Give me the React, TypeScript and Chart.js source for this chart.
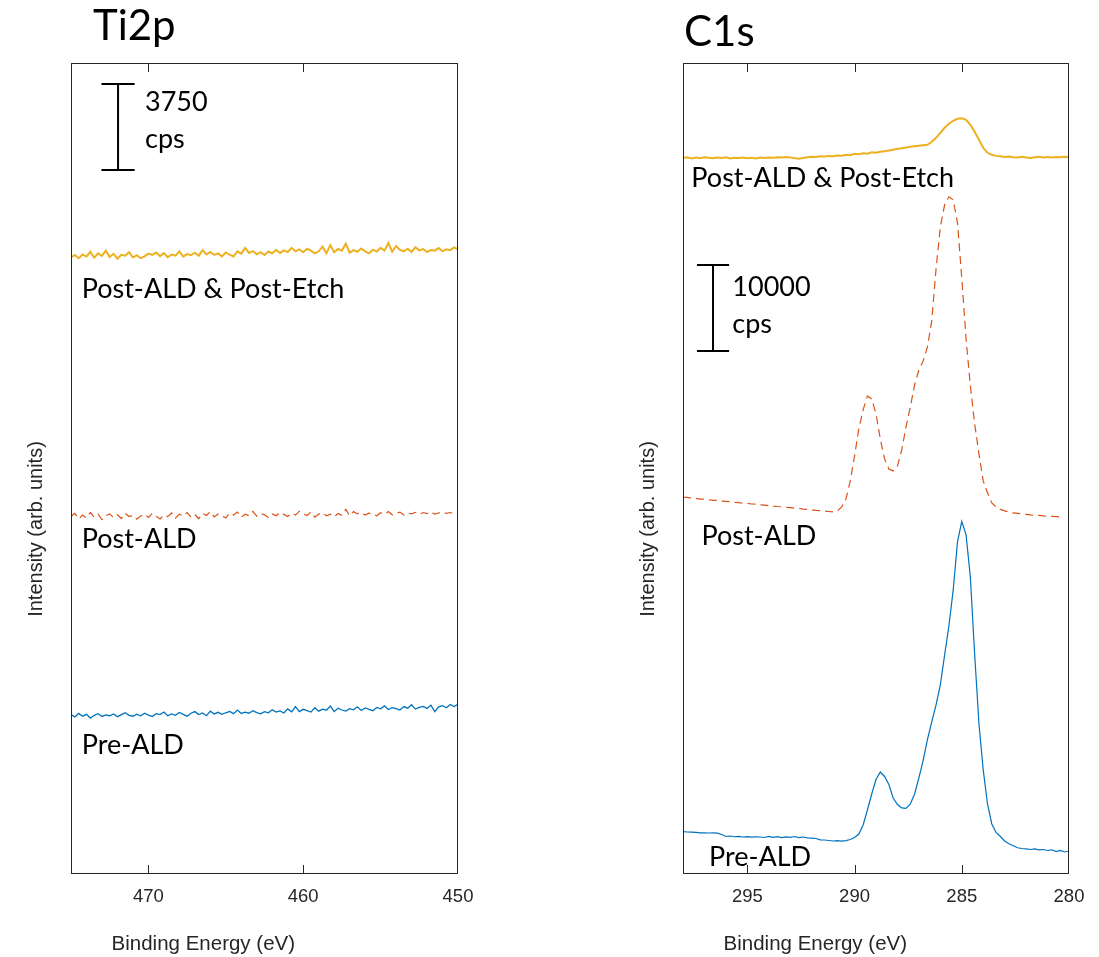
import React, { useEffect, useRef } from "react";
import { Chart, registerables } from "chart.js";

Chart.register(...registerables);

// ---------- Ti2p panel data (binding energy in eV, intensity in cps incl. stacking offset) ----------
const tiEnergy = [
  475, 474.75, 474.5, 474.25, 474, 473.75, 473.5, 473.25, 473, 472.75,
  472.5, 472.25, 472, 471.75, 471.5, 471.25, 471, 470.75, 470.5, 470.25,
  470, 469.75, 469.5, 469.25, 469, 468.75, 468.5, 468.25, 468, 467.75,
  467.5, 467.25, 467, 466.75, 466.5, 466.25, 466, 465.75, 465.5, 465.25,
  465, 464.75, 464.5, 464.25, 464, 463.75, 463.5, 463.25, 463, 462.75,
  462.5, 462.25, 462, 461.75, 461.5, 461.25, 461, 460.75, 460.5, 460.25,
  460, 459.75, 459.5, 459.25, 459, 458.75, 458.5, 458.25, 458, 457.75,
  457.5, 457.25, 457, 456.75, 456.5, 456.25, 456, 455.75, 455.5, 455.25,
  455, 454.75, 454.5, 454.25, 454, 453.75, 453.5, 453.25, 453, 452.75,
  452.5, 452.25, 452, 451.75, 451.5, 451.25, 451, 450.75, 450.5, 450.25,
  450,
];
const tiPostEtch = [
  26880, 26990, 26850, 27010, 26920, 27130, 26870, 27060, 26950, 27180,
  26900, 27040, 26830, 27000, 26960, 27110, 26880, 26980, 26850, 26930,
  27050, 26990, 27100, 26940, 27070, 26890, 27010, 26960, 27150, 26920,
  27030, 26980, 27090, 26950, 27200, 27010, 27120, 26990, 27060, 26930,
  27100, 27000, 26920, 27150, 27050, 27300, 27080, 27160, 27020, 27110,
  26990, 27140, 27060, 27210, 27080, 27190, 27120, 27300, 27150, 27230,
  27110, 27260, 27180, 27060, 27150, 27350, 27070, 27420, 27110, 27250,
  27180, 27480, 27090, 27200, 27130, 27270, 27150, 27060, 27220, 27140,
  27300, 27180, 27510, 27130, 27380, 27210, 27150, 27260, 27120, 27330,
  27190, 27250, 27120, 27210, 27180, 27290, 27150, 27240, 27200, 27320,
  27230,
];
const tiPostAld = [
  15600, 15720, 15480, 15650, 15530, 15760, 15560, 15690, 15450, 15620,
  15700, 15540, 15660, 15500, 15730, 15580, 15640, 15470, 15610, 15690,
  15550, 15720, 15600, 15480, 15650, 15580, 15740, 15520, 15690, 15610,
  15760, 15560, 15680, 15490, 15720, 15630, 15800, 15570, 15700, 15610,
  15520, 15740, 15650, 15780, 15560, 15690, 15620, 15810, 15600, 15720,
  15660, 15540, 15700, 15620, 15770, 15680, 15590, 15730, 15650, 15820,
  15700, 15630, 15780, 15560, 15690, 15750, 15620, 15690, 15580, 15720,
  15640, 15900, 15620, 15800, 15700, 15760, 15650, 15730, 15680, 15620,
  15750, 15690, 15800, 15660, 15720, 15780, 15650, 15740, 15700, 15770,
  15680, 15760, 15710, 15800, 15690, 15740, 15780, 15720, 15760, 15700,
  15750,
];
const tiPreAld = [
  6950, 6850, 7000, 6880, 6960, 6800, 6920, 6990, 6870, 6940,
  6900, 6980, 6860, 6950, 7030, 6920, 6880, 6970, 6900, 7010,
  6930, 6870, 6990, 6950, 7060, 6900, 6980, 6920, 7040, 6960,
  6880, 7010, 7080, 6950, 7020, 6900, 7100, 6980, 7050, 6960,
  7030, 7090, 6990, 7150, 7000, 7060, 7010, 7120, 7040, 6980,
  7080, 7030, 7160, 7060, 7110, 7020, 7200, 7070, 7300, 7080,
  7180, 7120, 7060, 7250, 7100, 7190, 7140, 7320, 7080, 7230,
  7150, 7100, 7210, 7160, 7290, 7130, 7240, 7180, 7120, 7260,
  7200, 7330, 7170, 7250, 7210, 7150, 7300, 7230, 7380, 7190,
  7260, 7310, 7220, 7360, 7080, 7290, 7340, 7250, 7390, 7300,
  7400,
];
const tiTicks = [470, 460, 450];

// ---------- C1s panel data ----------
const c1sEnergy = [
  298, 297.8, 297.6, 297.4, 297.2, 297, 296.8, 296.6, 296.4, 296.2,
  296, 295.8, 295.6, 295.4, 295.2, 295, 294.8, 294.6, 294.4, 294.2,
  294, 293.8, 293.6, 293.4, 293.2, 293, 292.8, 292.6, 292.4, 292.2,
  292, 291.8, 291.6, 291.4, 291.2, 291, 290.8, 290.6, 290.4, 290.2,
  290, 289.8, 289.6, 289.4, 289.2, 289, 288.8, 288.6, 288.4, 288.2,
  288, 287.8, 287.6, 287.4, 287.2, 287, 286.8, 286.6, 286.4, 286.2,
  286, 285.8, 285.6, 285.4, 285.2, 285, 284.8, 284.6, 284.4, 284.2,
  284, 283.8, 283.6, 283.4, 283.2, 283, 282.8, 282.6, 282.4, 282.2,
  282, 281.8, 281.6, 281.4, 281.2, 281, 280.8, 280.6, 280.4, 280.2,
  280,
];
const c1sPostEtch = [
  83250, 83330, 83210, 83300, 83240, 83350, 83270, 83220, 83310, 83260,
  83330, 83200, 83290, 83250, 83320, 83230, 83290, 83210, 83300, 83260,
  83320, 83280, 83350, 83300, 83360, 83310, 83240, 83170, 83260, 83350,
  83410, 83380, 83460, 83420, 83500, 83470, 83540, 83510, 83620, 83580,
  83740, 83690, 83800, 83760, 83910, 83870, 83980, 84050, 84120, 84220,
  84330, 84380, 84480, 84560, 84620, 84680, 84740, 84800, 85140, 85600,
  86180, 86770, 87230, 87580, 87820, 87870, 87700, 87120, 86300, 85370,
  84440, 83860, 83630, 83500, 83450, 83380, 83430, 83340, 83300, 83390,
  83320, 83260, 83350, 83410, 83320, 83370, 83300, 83380, 83340, 83400,
  83360,
];
const c1sPostAld = [
  43810, 43790, 43700, 43680, 43590, 43600, 43520, 43450, 43440, 43350,
  43330, 43290, 43200, 43190, 43100, 43090, 43020, 43010, 42920, 42900,
  42820, 42790, 42730, 42700, 42620, 42600, 42530, 42510, 42420, 42400,
  42350, 42290, 42260, 42190, 42150, 42100, 42220, 42680, 43610, 45710,
  48610, 51750, 53960, 55590, 55240, 53500, 50590, 48270, 47100, 46870,
  47450, 49310, 51990, 54310, 56870, 58620, 59660, 61290, 64310, 70360,
  75250, 77810, 78740, 78390, 75710, 69320, 62220, 56750, 52340, 48850,
  45710, 44310, 43150, 42680, 42390, 42220, 42100, 41980, 41930, 41870,
  41810, 41750, 41730, 41690, 41640, 41610, 41580, 41550, 41520, null,
  null,
];
const c1sPreAld = [
  4920, 4885, 4860, 4830, 4790, 4790, 4770, 4790, 4745, 4595,
  4360, 4420, 4330, 4385, 4300, 4350, 4280, 4330, 4300, 4245,
  4375, 4270, 4350, 4235, 4315, 4255, 4360, 4235, 4300, 4210,
  4165, 4130, 3975, 3955, 3895, 3840, 3875, 3815, 3875, 4010,
  4245, 4650, 5700, 7440, 9300, 10990, 11860, 11340, 10410, 8840,
  8080, 7680, 7620, 8140, 9300, 11170, 13200, 15640, 17680, 19660,
  21980, 25470, 28840, 33030, 38610, 41000, 39430, 34540, 25590, 17500,
  12100, 8140, 5815, 4825, 4360, 3840, 3510, 3280, 3050, 2965,
  2930, 2850, 2930, 2815, 2850, 2735, 2815, 2615, 2735, 2560,
  2675,
];
const c1sTicks = [295, 290, 285, 280];

const seriesNames = ["Post-ALD & Post-Etch", "Post-ALD", "Pre-ALD"];
const panelTitles = ["Ti2p", "C1s"];
const scaleBarCps = [3750, 10000];

// ---------- styles ----------
const COLORS = ["#EDB120", "#D95319", "#0072BD"];
const AXIS_COLOR = "#262626";
const AXIS_FONT = "'Liberation Sans', Arial, sans-serif";
const TEXT_FONT = "Lato, 'Open Sans', sans-serif";

type Label = { text: string; e: number; y: number };
type PanelCfg = {
  title: string;
  titleDx: number;
  titleBaseline: number;
  energy: number[];
  series: (number | null)[][];
  widths: number[];
  xMin: number;
  xMax: number;
  yMax: number;
  ticks: number[];
  canvasLeft: number;
  canvasWidth: number;
  padLeft: number;
  padRight: number;
  bar: { e: number; lo: number; cps: number; capHalf: number; textE: number; y1: number; y2: number };
  labels: Label[];
};

const panels: PanelCfg[] = [
  {
    title: panelTitles[0],
    titleDx: 22,
    titleBaseline: 40,
    energy: tiEnergy,
    series: [tiPostEtch, tiPostAld, tiPreAld],
    widths: [2, 1.2, 1.3],
    xMin: 450,
    xMax: 475,
    yMax: 35360,
    ticks: tiTicks,
    canvasLeft: 0,
    canvasWidth: 549,
    padLeft: 71,
    padRight: 91,
    bar: { e: 471.96, lo: 30694, cps: scaleBarCps[0], capHalf: 1.07, textE: 470.22, y1: 33280, y2: 31667 },
    labels: [
      { text: seriesNames[0], e: 474.31, y: 25101 },
      { text: seriesNames[1], e: 474.31, y: 14200 },
      { text: seriesNames[2], e: 474.31, y: 5232 },
    ],
  },
  {
    title: panelTitles[1],
    titleDx: 1,
    titleBaseline: 45.7,
    energy: c1sEnergy,
    series: [c1sPostEtch, c1sPostAld, c1sPreAld],
    widths: [2, 1.2, 1.2],
    xMin: 280,
    xMax: 298,
    yMax: 94300,
    ticks: c1sTicks,
    canvasLeft: 560,
    canvasWidth: 539,
    padLeft: 123,
    padRight: 30,
    bar: { e: 296.6, lo: 60814, cps: scaleBarCps[1], capHalf: 0.75, textE: 295.7, y1: 67245, y2: 62943 },
    labels: [
      { text: seriesNames[0], e: 297.61, y: 79850 },
      { text: seriesNames[1], e: 297.14, y: 38256 },
      { text: seriesNames[2], e: 296.79, y: 930 },
    ],
  },
];

function makeDecorPlugin(cfg: PanelCfg) {
  return {
    id: "panelDecor",
    afterDraw(chart: any) {
      const { ctx, chartArea } = chart;
      const xs = chart.scales.x;
      const ys = chart.scales.y;
      const l = Math.round(chartArea.left);
      const r = Math.round(chartArea.right) - 1;
      const t = Math.round(chartArea.top);
      const b = Math.round(chartArea.bottom) - 1;
      ctx.save();
      ctx.setLineDash([]);
      // box (filled 1px rects, crisp)
      ctx.fillStyle = AXIS_COLOR;
      ctx.fillRect(l, t, r - l + 1, 1);
      ctx.fillRect(l, b, r - l + 1, 1);
      ctx.fillRect(l, t, 1, b - t + 1);
      ctx.fillRect(r, t, 1, b - t + 1);
      // inner tick marks (bottom + mirrored top)
      cfg.ticks.forEach((v) => {
        let px = Math.round(xs.getPixelForValue(v));
        px = Math.max(l, Math.min(r, px));
        ctx.fillRect(px, b - 8, 1, 8);
        ctx.fillRect(px, t + 1, 1, 8);
      });

      // scale bar
      const bx = xs.getPixelForValue(cfg.bar.e);
      const by0 = ys.getPixelForValue(cfg.bar.lo);
      const by1 = ys.getPixelForValue(cfg.bar.lo + cfg.bar.cps);
      const cx0 = xs.getPixelForValue(cfg.bar.e + cfg.bar.capHalf);
      const cx1 = xs.getPixelForValue(cfg.bar.e - cfg.bar.capHalf);
      ctx.strokeStyle = "#000";
      ctx.lineWidth = 2;
      ctx.beginPath();
      ctx.moveTo(bx, by0);
      ctx.lineTo(bx, by1);
      ctx.moveTo(cx0, by0);
      ctx.lineTo(cx1, by0);
      ctx.moveTo(cx0, by1);
      ctx.lineTo(cx1, by1);
      ctx.stroke();

      // annotation text
      ctx.fillStyle = "#000";
      ctx.textAlign = "left";
      ctx.textBaseline = "alphabetic";
      ctx.font = `27px ${TEXT_FONT}`;
      const tx = xs.getPixelForValue(cfg.bar.textE);
      ctx.fillText(String(cfg.bar.cps), tx, ys.getPixelForValue(cfg.bar.y1));
      ctx.fillText("cps", tx, ys.getPixelForValue(cfg.bar.y2));
      cfg.labels.forEach((lb) => {
        ctx.fillText(lb.text, xs.getPixelForValue(lb.e), ys.getPixelForValue(lb.y));
      });

      // panel title
      ctx.font = `42px ${TEXT_FONT}`;
      ctx.fillText(cfg.title, chartArea.left + cfg.titleDx, cfg.titleBaseline);

      // axis titles
      ctx.fillStyle = AXIS_COLOR;
      ctx.font = `20.5px ${AXIS_FONT}`;
      ctx.textAlign = "center";
      ctx.fillText("Binding Energy (eV)", chartArea.left + 132.3, 950);
      ctx.translate(chartArea.left - 29.5, 529);
      ctx.rotate(-Math.PI / 2);
      ctx.font = `20px ${AXIS_FONT}`;
      ctx.fillText("Intensity (arb. units)", 0, 0);
      ctx.restore();
    },
  };
}

function Panel({ cfg }: { cfg: PanelCfg }) {
  const ref = useRef<HTMLCanvasElement | null>(null);
  useEffect(() => {
    if (!ref.current) return;
    const datasets = cfg.series.map((vals, si) => ({
      label: seriesNames[si],
      data: cfg.energy
        .map((e, i) => ({ x: e, y: vals[i] }))
        .filter((p) => p.y !== null && p.y !== undefined),
      borderColor: COLORS[si],
      backgroundColor: COLORS[si],
      borderWidth: cfg.widths[si],
      borderDash: si === 1 ? [8, 5] : [],
      pointRadius: 0,
      pointHoverRadius: 0,
      fill: false,
      tension: 0,
    }));
    const chart = new Chart(ref.current, {
      type: "line",
      data: { datasets },
      options: {
        animation: false,
        responsive: false,
        events: [],
        layout: { padding: { left: cfg.padLeft, right: cfg.padRight, top: 63, bottom: 0 } },
        plugins: { legend: { display: false }, tooltip: { enabled: false }, title: { display: false } },
        scales: {
          x: {
            type: "linear",
            min: cfg.xMin,
            max: cfg.xMax,
            reverse: true,
            afterBuildTicks: (s: any) => {
              s.ticks = cfg.ticks.map((v) => ({ value: v }));
            },
            afterFit: (s: any) => {
              s.height = 83;
            },
            grid: { display: false, drawTicks: false },
            border: { display: false },
            ticks: {
              autoSkip: false,
              maxRotation: 0,
              padding: 12,
              color: AXIS_COLOR,
              font: { family: AXIS_FONT, size: 18.5 },
              callback: (v: any) => String(v),
            },
          },
          y: { type: "linear", display: false, min: 0, max: cfg.yMax },
        },
      },
      plugins: [makeDecorPlugin(cfg)],
    } as any);
    return () => chart.destroy();
  }, [cfg]);
  return (
    <canvas
      ref={ref}
      width={cfg.canvasWidth}
      height={957}
      style={{ position: "absolute", left: cfg.canvasLeft, top: 0, width: cfg.canvasWidth, height: 957 }}
    />
  );
}

export default function App() {
  return (
    <div style={{ position: "absolute", left: 0, top: 0, width: 1099, height: 957, background: "#fff" }}>
      {panels.map((p) => (
        <Panel key={p.title} cfg={p} />
      ))}
    </div>
  );
}
